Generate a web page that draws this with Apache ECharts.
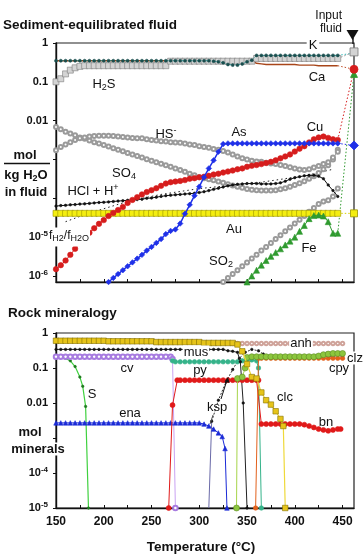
<!DOCTYPE html>
<html><head><meta charset="utf-8">
<script src="https://cdn.jsdelivr.net/npm/echarts@6.0.0/dist/echarts.min.js"></script>
<style>html,body{margin:0;padding:0;background:#fff}#c{width:364px;height:555px}</style>
</head><body><div id="c"></div>
<script>
// ---------- axis ticks / labels ----------
const xTicks = [150,175,200,225,250,275,300,325,350,375,400,425,450];
const xLabels = [150,200,250,300,350,400,450];
const fluidTicks = [1e-6,1e-5,1e-4,1e-3,0.01,0.1,1];
const fluidLabels = [1e-6,1e-5,0.01,0.1,1];
const mineralTicks = [1e-5,1e-4,1e-3,0.01,0.1,1];
const mineralLabels = [1e-5,1e-4,0.01,0.1,1];
const inputT = 462;

// ---------- Sediment-equilibrated fluid (mol/kg H2O) ----------
const temps = [150,155,160,165,170,175,180,185,190,195,
  200,205,210,215,220,225,230,235,240,245,
  250,255,260,265,270,275,280,285,290,295,
  300,305,310,315,320,325,330,335,340,345,
  350,355,360,365,370,375,380,385,390,395,
  400,405,410,415,420,425,430,435,440,445];
const h2s = [0.10,0.12,0.16,0.20,0.23,0.25,0.26,0.26,0.26,0.26,
  0.26,0.26,0.26,0.26,0.26,0.26,0.26,0.26,0.26,0.26,
  0.26,0.26,0.26,0.26,0.34,0.34,0.34,0.34,0.34,0.34,
  0.34,0.34,0.34,0.34,0.34,0.34,0.34,0.34,0.34,0.34,
  0.34,0.34,0.40,0.40,0.40,0.40,0.40,0.40,0.40,0.40,
  0.40,0.40,0.40,0.40,0.40,0.40,0.40,0.40,0.40,0.40];
const kFluid = [0.35,0.35,0.35,0.35,0.35,0.35,0.35,0.35,0.35,0.35,
  0.35,0.35,0.35,0.35,0.35,0.35,0.35,0.35,0.35,0.35,
  0.35,0.35,0.35,0.35,0.35,0.35,0.35,0.35,0.35,0.35,
  0.35,0.35,0.35,0.34,0.33,0.31,0.28,0.27,0.27,0.29,
  0.33,0.36,0.48,0.48,0.48,0.48,0.48,0.48,0.48,0.48,
  0.48,0.48,0.48,0.48,0.48,0.48,0.48,0.48,0.48,0.48];
const caFluid = [0.35,0.35,0.35,0.35,0.35,0.35,0.35,0.35,0.35,0.35,
  0.35,0.35,0.35,0.35,0.35,0.35,0.35,0.35,0.35,0.35,
  0.35,0.35,0.35,0.35,0.35,0.35,0.35,0.35,0.35,0.35,
  0.35,0.35,0.35,0.35,0.35,0.35,0.35,0.35,0.35,0.35,
  0.35,0.35,0.30,0.29,0.28,0.28,0.28,0.28,0.28,0.28,
  0.28,0.27,0.27,0.27,0.27,0.26,0.26,0.26,0.26,0.26];
const cuFluid = [1.5e-6,1.9e-6,2.5e-6,3.5e-6,5.0e-6,7.1e-6,8.9e-6,1.3e-5,1.7e-5,2.2e-5,
  2.75e-5,3.5e-5,4.2e-5,5.0e-5,6.0e-5,7.6e-5,9.1e-5,1.07e-4,1.26e-4,1.45e-4,
  1.62e-4,1.82e-4,2.1e-4,2.4e-4,2.6e-4,2.7e-4,2.8e-4,2.95e-4,3.2e-4,3.3e-4,
  3.5e-4,3.6e-4,3.8e-4,4.1e-4,4.3e-4,4.6e-4,4.9e-4,5.2e-4,5.6e-4,5.9e-4,
  6.5e-4,6.9e-4,7.2e-4,7.6e-4,8.1e-4,8.7e-4,9.5e-4,1.07e-3,1.2e-3,1.35e-3,
  1.6e-3,1.9e-3,2.2e-3,2.75e-3,3.3e-3,3.7e-3,3.9e-3,3.6e-3,3.3e-3,3.2e-3];
const auFluid = [4.1e-5,4.1e-5,4.1e-5,4.1e-5,4.1e-5,4.1e-5,4.1e-5,4.1e-5,4.1e-5,4.1e-5,
  4.1e-5,4.1e-5,4.1e-5,4.1e-5,4.1e-5,4.1e-5,4.1e-5,4.1e-5,4.1e-5,4.1e-5,
  4.1e-5,4.1e-5,4.1e-5,4.1e-5,4.1e-5,4.1e-5,4.1e-5,4.1e-5,4.1e-5,4.1e-5,
  4.1e-5,4.1e-5,4.1e-5,4.1e-5,4.1e-5,4.1e-5,4.1e-5,4.1e-5,4.1e-5,4.1e-5,
  4.1e-5,4.1e-5,4.1e-5,4.1e-5,4.1e-5,4.1e-5,4.1e-5,4.1e-5,4.1e-5,4.1e-5,
  4.1e-5,4.1e-5,4.1e-5,4.1e-5,4.1e-5,4.1e-5,4.1e-5,4.1e-5,4.1e-5,4.1e-5];
const hclFluid = [6.3e-5,6.5e-5,6.6e-5,6.8e-5,6.9e-5,7.1e-5,7.2e-5,7.4e-5,7.6e-5,7.8e-5,
  7.9e-5,8.1e-5,8.3e-5,8.5e-5,8.7e-5,8.9e-5,9.1e-5,9.3e-5,9.5e-5,1.0e-4,
  1.02e-4,1.07e-4,1.12e-4,1.17e-4,1.2e-4,1.23e-4,1.26e-4,1.29e-4,1.32e-4,1.35e-4,
  1.41e-4,1.48e-4,1.58e-4,1.7e-4,1.82e-4,1.95e-4,2.1e-4,2.2e-4,2.3e-4,2.35e-4,
  2.4e-4,2.4e-4,2.4e-4,2.35e-4,2.35e-4,2.35e-4,2.4e-4,2.5e-4,2.75e-4,3.1e-4,
  3.4e-4,3.6e-4,3.8e-4,3.9e-4,3.9e-4,3.7e-4,3.2e-4,2.2e-4,1.58e-4,1.12e-4];
const hsFluid = [1.74e-3,2.1e-3,2.45e-3,2.8e-3,3.2e-3,3.5e-3,3.7e-3,3.9e-3,4.0e-3,4.1e-3,
  4.1e-3,4.1e-3,4.0e-3,3.9e-3,3.8e-3,3.7e-3,3.6e-3,3.5e-3,3.5e-3,3.3e-3,
  3.2e-3,3.1e-3,2.95e-3,2.9e-3,2.8e-3,2.75e-3,2.7e-3,2.6e-3,2.45e-3,2.35e-3,
  2.2e-3,2.1e-3,2.0e-3,1.86e-3,1.78e-3,1.66e-3,1.51e-3,1.35e-3,1.2e-3,1.07e-3,
  1.0e-3,9.3e-4,8.9e-4,8.7e-4,8.3e-4,7.9e-4,7.6e-4,7.2e-4,6.8e-4,6.3e-4,
  5.9e-4,5.5e-4,5.4e-4,5.6e-4,6.2e-4,6.8e-4,7.6e-4,8.5e-4,1.12e-3,1.58e-3];
const so4Fluid = [6.9e-3,6.0e-3,5.2e-3,4.7e-3,4.2e-3,3.7e-3,3.4e-3,3.1e-3,2.8e-3,2.6e-3,
  2.35e-3,2.15e-3,1.95e-3,1.78e-3,1.62e-3,1.48e-3,1.35e-3,1.23e-3,1.12e-3,1.02e-3,
  9.3e-4,8.5e-4,7.8e-4,7.1e-4,6.5e-4,5.9e-4,5.4e-4,4.8e-4,4.3e-4,3.9e-4,
  3.5e-4,3.3e-4,3.1e-4,2.9e-4,2.7e-4,2.5e-4,2.3e-4,2.15e-4,2.0e-4,1.86e-4,
  1.74e-4,1.66e-4,1.62e-4,1.58e-4,1.58e-4,1.58e-4,1.62e-4,1.7e-4,1.82e-4,2.0e-4,
  2.2e-4,2.45e-4,2.75e-4,3.2e-4,3.7e-4,4.5e-4,5.6e-4,7.1e-4,1.0e-3,1.78e-3];
const asT = [205,210,215,220,225,230,235,240,245,250,255,260,265,270,275,280,285,290,295,300,
  305,310,315,320,325,330,335,340,345,350,355,360,365,370,375,380,385,390,395,400,
  405,410,415,420,425,430,435,440,445];
const asFluid = [7e-7,8.9e-7,1.12e-6,1.41e-6,1.78e-6,2.24e-6,2.8e-6,3.5e-6,4.5e-6,5.6e-6,
  7.1e-6,8.9e-6,1.2e-5,1.45e-5,1.58e-5,2.24e-5,4.0e-5,6.8e-5,1.17e-4,2.0e-4,
  3.5e-4,5.9e-4,9.5e-4,1.58e-3,2.5e-3,2.6e-3,2.6e-3,2.6e-3,2.6e-3,2.6e-3,
  2.6e-3,2.6e-3,2.6e-3,2.6e-3,2.6e-3,2.6e-3,2.6e-3,2.6e-3,2.6e-3,2.6e-3,
  2.6e-3,2.6e-3,2.6e-3,2.6e-3,2.6e-3,2.6e-3,2.6e-3,2.6e-3,2.6e-3];
const fh2T = [160,180,200,220,240,260,280,300,320,340,360,380,400,420,440];
const fh2Ratio = [2.5e-5,3.8e-5,5.4e-5,7.6e-5,1.0e-4,1.26e-4,1.5e-4,1.78e-4,2.0e-4,2.2e-4,2.5e-4,2.95e-4,3.5e-4,4.3e-4,5.6e-4];
const so2T = [325,330,335,340,345,350,355,360,365,370,375,380,385,390,395,400,405,410,415,420,425,430,435,440,445];
const so2Fluid = [7e-7,8.9e-7,1.12e-6,1.41e-6,1.78e-6,2.24e-6,2.8e-6,3.5e-6,4.5e-6,5.6e-6,
  7.1e-6,8.9e-6,1.12e-5,1.41e-5,1.78e-5,2.24e-5,2.8e-5,3.5e-5,4.5e-5,5.6e-5,
  7.1e-5,8.3e-5,8.9e-5,1.12e-4,1.78e-4];
const feT = [350,355,360,365,370,375,380,385,390,395,400,405,410,415,420,425,430,435,440,445];
const feFluid = [7e-7,1.0e-6,1.41e-6,1.9e-6,2.5e-6,3.2e-6,4.0e-6,5.0e-6,6.3e-6,7.9e-6,
  1.0e-5,1.41e-5,2.0e-5,3.0e-5,3.6e-5,3.7e-5,3.5e-5,2.5e-5,1.26e-5,1.26e-5];
// input fluid composition
const h2sIn = 0.59, kIn = 0.55, caIn = 0.21, cuIn = 0.21, feIn = 0.16, asIn = 2.3e-3, auIn = 4.1e-5;

// ---------- Rock mineralogy (mol minerals) ----------
const clcT = [150,155,160,165,170,175,180,185,190,195,200,205,210,215,220,225,230,235,240,245,
  250,255,260,265,270,275,280,285,290,295,300,305,310,315,320,325,330,335,340,
  345,350,355,360,365,370,375,380,385,388,390];
const clcV = [0.6,0.6,0.6,0.6,0.6,0.6,0.6,0.6,0.6,0.6,0.6,0.58,0.58,0.58,0.58,0.58,0.58,0.58,0.58,0.58,
  0.58,0.55,0.55,0.55,0.55,0.55,0.55,0.55,0.55,0.55,0.55,0.52,0.52,0.52,0.52,0.52,0.52,0.52,0.47,
  0.3,0.13,0.055,0.05,0.02,0.012,0.009,0.0058,0.0035,0.0022,1e-5];
const anhT = [335,340,345,350,355,360,365,370,375,380,385,390,395,400,405,410,415,420,425,430,435,440,445,450];
const anhV = [0.5,0.5,0.5,0.5,0.5,0.5,0.5,0.5,0.5,0.5,0.5,0.5,0.5,0.5,0.5,0.5,0.5,0.5,0.5,0.5,0.5,0.5,0.5,0.5];
const musT = [150,155,160,165,170,175,180,185,190,195,200,205,210,215,220,225,230,235,240,245,
  250,255,260,265,270,275,280,285,290,295,300,305,310,315,320,325,330,335,340,343,346,350];
const musV = [0.34,0.34,0.34,0.34,0.34,0.34,0.34,0.34,0.34,0.34,0.34,0.34,0.34,0.34,0.34,0.34,0.34,0.34,0.34,0.34,
  0.34,0.34,0.34,0.34,0.34,0.34,0.34,0.34,0.34,0.34,0.34,0.34,0.34,0.34,0.34,0.34,0.31,0.30,0.28,0.15,0.01,1e-5];
const kspT = [310,313,320,328,335,342,348,355,362,367,375,390,410,430,450];
const kspV = [1e-5,0.003,0.012,0.04,0.09,0.19,0.28,0.34,0.31,0.25,0.21,0.21,0.21,0.21,0.21];
const clzT = [339,340,345,348,350,355,360,365,370,375,380,385,390,395,400,405,410,415,420,425,430,435,440,445,450];
const clzV = [1e-5,0.05,0.055,0.1,0.2,0.21,0.21,0.21,0.21,0.21,0.21,0.21,0.21,0.21,0.21,0.21,0.21,0.21,0.21,0.22,0.24,0.25,0.26,0.26,0.26];
const cpyT = [359,362,365,370,375,380,385,390,395,400,405,410,415,420,425,430,435,440,445,450];
const cpyV = [1e-5,0.19,0.19,0.19,0.19,0.19,0.19,0.19,0.19,0.19,0.19,0.19,0.19,0.19,0.19,0.19,0.19,0.19,0.19,0.19];
const cvT = [150,155,160,165,170,175,180,185,190,195,200,205,210,215,220,225,230,235,240,245,250,255,260,265,270,272,275];
const cvV = [0.21,0.21,0.21,0.21,0.21,0.21,0.21,0.21,0.21,0.21,0.21,0.21,0.21,0.21,0.21,0.21,0.21,0.21,0.21,0.21,0.21,0.21,0.21,0.21,0.21,0.18,1e-5];
const pyT = [272,275,280,285,290,295,300,305,310,315,320,325,330,335,340,345,350,355,360,362,365];
const pyV = [0.16,0.15,0.15,0.15,0.15,0.15,0.15,0.15,0.15,0.15,0.15,0.15,0.15,0.15,0.15,0.16,0.17,0.17,0.16,0.1,1e-5];
const sT = [150,155,160,165,170,175,178,181,184];
const sV = [0.2,0.2,0.19,0.16,0.11,0.055,0.03,0.008,1e-5];
const enaT = [150,155,160,165,170,175,180,185,190,195,200,205,210,215,220,225,230,235,240,245,
  250,255,260,265,270,275,280,285,290,295,300,305,310,315,320,324,327,329];
const enaV = [0.0027,0.0027,0.0027,0.0027,0.0027,0.0027,0.0027,0.0027,0.0027,0.0027,0.0027,0.0027,0.0027,0.0027,0.0027,0.0027,0.0027,0.0027,0.0027,0.0027,
  0.0027,0.0027,0.0027,0.0027,0.0027,0.0027,0.0027,0.0027,0.0027,0.0027,0.0027,0.0025,0.0022,0.0018,0.0014,0.0011,0.0005,1e-5];
const bnT = [268,272,277,280,285,290,295,300,305,310,315,320,325,330,335,340,345,350,355,360,362,365,
  370,375,380,385,390,395,400,405,410,415,420,425,430,435,440,445,448];
const bnV = [1e-5,0.0087,0.045,0.045,0.045,0.045,0.045,0.045,0.045,0.045,0.045,0.045,0.045,0.045,0.045,0.045,0.045,0.045,0.045,0.045,0.045,0.0025,
  0.0025,0.0025,0.0025,0.0025,0.0025,0.0025,0.0025,0.0025,0.0024,0.0022,0.002,0.0018,0.0017,0.0016,0.0017,0.0018,0.0018];

// ---------- build ----------
const F = 'Liberation Sans, Arial, sans-serif';
const zip = (xs, ys) => xs.map((x, i) => [x, ys[i]]);
const last = (xs, ys) => [xs[xs.length - 1], ys[ys.length - 1]];

function line(gi, name, data, o) {
  return {
    type: 'line', name, xAxisIndex: gi, yAxisIndex: gi, data,
    symbol: o.symbol || 'none', symbolSize: o.size || 4, showSymbol: !!o.symbol,
    lineStyle: { color: o.line || o.color, width: o.width || 1, type: o.dash || 'solid' },
    itemStyle: { color: o.color, borderColor: o.border || o.color, borderWidth: o.bw || 0.6 },
    z: o.z || 2, silent: true, animation: false, clip: true
  };
}
function inputLink(name, from, val, o) {
  return {
    type: 'line', name: name + ' input', xAxisIndex: 0, yAxisIndex: 0,
    data: [{ value: from, symbol: 'none' }, { value: [inputT, val], symbol: o.symbol || 'none', symbolSize: o.size || 7 }],
    lineStyle: { color: o.line || o.color, width: 1, type: [1.5, 2] },
    itemStyle: { color: o.color, borderColor: o.border || o.color, borderWidth: 0.8 },
    z: o.z || 3, silent: true, animation: false, clip: false
  };
}

const kspData = zip(kspT, kspV);
const series = [
  line(0, 'SO4', zip(temps, so4Fluid), { symbol: 'emptyCircle', size: 4, color: '#9a9a9a', line: '#a8a8a8' }),
  line(0, 'HS-', zip(temps, hsFluid), { symbol: 'emptyCircle', size: 4, color: '#9a9a9a', line: '#a8a8a8' }),
  line(0, 'SO2', zip(so2T, so2Fluid), { symbol: 'emptyCircle', size: 4, color: '#9a9a9a', line: '#a8a8a8' }),
  line(0, 'fH2/fH2O', zip(fh2T, fh2Ratio), { color: '#222', dash: [1.5, 3] }),
  line(0, 'HCl + H+', zip(temps, hclFluid), { symbol: 'circle', size: 2.5, color: '#111', z: 3 }),
  line(0, 'Au', zip(temps, auFluid), { symbol: 'rect', size: 6, color: '#f4ee10', border: '#9a9400', line: '#e6dc00', z: 3 }),
  line(0, 'Fe', zip(feT, feFluid), { symbol: 'triangle', size: 6, color: '#2f9a2f', line: '#2f9a2f', z: 4 }),
  line(0, 'Cu', zip(temps, cuFluid), { symbol: 'circle', size: 5.5, color: '#d61d1d', line: '#d61d1d', z: 4 }),
  line(0, 'As', zip(asT, asFluid), { symbol: 'diamond', size: 5.5, color: '#1f30e8', line: '#1f30e8', width: 1.5, z: 5 }),
  line(0, 'H2S', zip(temps, h2s), { symbol: 'rect', size: 6, color: '#d4d4d4', border: '#7a7a7a', line: '#999', z: 5 }),
  line(0, 'Ca', zip(temps, caFluid), { color: '#a8461a', width: 1.4, z: 4 }),
  line(0, 'K', zip(temps, kFluid), { symbol: 'circle', size: 3, color: '#1a4e4e', line: '#2aa5a5', dash: [1.5, 1.5], z: 6 }),
  inputLink('Au', last(temps, auFluid), auIn, { symbol: 'rect', size: 7, color: '#f4ee10', border: '#9a9400', line: '#d8d000' }),
  inputLink('As', last(asT, asFluid), asIn, { symbol: 'diamond', size: 9, color: '#1f30e8' }),
  inputLink('Fe', last(feT, feFluid), feIn, { symbol: 'triangle', size: 7, color: '#2f9a2f' }),
  inputLink('Cu', last(temps, cuFluid), cuIn, { symbol: 'circle', size: 8, color: '#d61d1d' }),
  inputLink('Ca', last(temps, caFluid), caIn, { color: '#c0502a' }),
  inputLink('K', last(temps, kFluid), kIn, { color: '#30b8b8' }),
  inputLink('H2S', last(temps, h2s), h2sIn, { symbol: 'rect', size: 8, color: '#d4d4d4', border: '#7a7a7a', line: '#999' }),

  line(1, 'S', zip(sT, sV), { symbol: 'circle', size: 2.5, color: '#1e7a1e', line: '#3fd13f', width: 1.2 }),
  line(1, 'ena', zip(enaT, enaV), { symbol: 'triangle', size: 4.5, color: '#1a2ad6', line: '#1a2ad6' }),
  line(1, 'bn', zip(bnT, bnV), { symbol: 'circle', size: 5, color: '#e01a1a', line: '#e01a1a', z: 3 }),
  line(1, 'cv', zip(cvT, cvV), { symbol: 'emptyCircle', size: 4.5, color: '#a77be0', line: '#c9a2f2' }),
  line(1, 'py', zip(pyT, pyV), { symbol: 'circle', size: 4.5, color: '#35b38a', line: '#35b38a' }),
  line(1, 'ksp (onset)', kspData.slice(0, 2), { color: '#6a6aa8' }),
  line(1, 'ksp', kspData.slice(1), { symbol: 'circle', size: 2.5, color: '#111', line: '#333', dash: [2, 1.5] }),
  line(1, 'mus', zip(musT, musV), { symbol: 'circle', size: 2.5, color: '#111', line: '#222', z: 3 }),
  line(1, 'anh', zip(anhT, anhV), { symbol: 'emptyCircle', size: 3.5, color: '#cfa39a', line: '#cfa39a' }),
  line(1, 'cpy', zip(cpyT, cpyV), { symbol: 'circle', size: 4.5, color: '#e2611c', line: '#e2611c', z: 3 }),
  line(1, 'clz', zip(clzT, clzV), { symbol: 'circle', size: 6, color: '#8cc63e', border: '#5d8a22', line: '#a6d44a', z: 4 }),
  line(1, 'clc', zip(clcT, clcV), { symbol: 'rect', size: 5.5, color: '#e6c41a', border: '#857000', line: '#efd93a', width: 1.2, z: 5 })
];

const expLabel = v => {
  const e = Math.round(Math.log10(v));
  if (e === 0) return '1';
  if (e === -1) return '0.1';
  if (e === -2) return '0.01';
  return '{b|10}{p|' + e + '}';
};
const axisRich = {
  b: { fontSize: 11, fontWeight: 'bold', fontFamily: F, color: '#111' },
  p: { fontSize: 8, fontWeight: 'bold', fontFamily: F, color: '#111', padding: [0, 0, 6, 0] }
};
function xAxis(gi, labels) {
  return {
    type: 'value', gridIndex: gi, min: 150, max: 462,
    axisLine: { show: true, onZero: false, lineStyle: { color: '#111', width: 1.4 } },
    axisTick: { show: true, inside: true, length: 3, customValues: xTicks, lineStyle: { color: '#111', width: 1 } },
    axisLabel: { show: labels, customValues: xLabels, margin: 8, fontSize: 12, fontWeight: 'bold', fontFamily: F, color: '#111' },
    splitLine: { show: false }
  };
}
function yAxis(gi, min, ticks, labels) {
  return {
    type: 'log', logBase: 10, gridIndex: gi, min, max: 1,
    axisLine: { show: true, lineStyle: { color: '#111', width: 1.4 } },
    axisTick: { show: true, inside: false, length: 3, customValues: ticks, lineStyle: { color: '#111' } },
    axisLabel: { customValues: labels, formatter: expLabel, margin: 8, fontSize: 11, fontWeight: 'bold', fontFamily: F, color: '#111', rich: axisRich },
    splitLine: { show: false }, minorTick: { show: false }
  };
}

// graphic texts
const RICH = {
  s: { fontSize: 9, fontFamily: F, fill: '#111', padding: [7, 0, 0, 0] },
  u: { fontSize: 9, fontFamily: F, fill: '#111', padding: [0, 0, 7, 0] },
  bs: { fontSize: 9, fontWeight: 'bold', fontFamily: F, fill: '#111', padding: [7, 0, 0, 0] },
  bu: { fontSize: 8, fontWeight: 'bold', fontFamily: F, fill: '#111', padding: [0, 0, 7, 0] }
};
function txt(text, x, y, o) {
  o = o || {};
  const st = {
    text, x, y, fill: '#111', align: o.align || 'center', verticalAlign: 'middle',
    font: (o.bold ? 'bold ' : '') + (o.size || 13) + 'px ' + F, rich: RICH
  };
  if (o.bg) { st.backgroundColor = '#fff'; st.padding = o.pad || [0, 1]; }
  return { type: 'text', x: 0, y: 0, style: st, z: 100, silent: true };
}
const graphic = [
  txt('Sediment-equilibrated fluid', 3, 25, { bold: true, size: 13.5, align: 'left' }),
  txt('Input', 342, 16, { align: 'right', size: 12 }),
  txt('fluid', 342, 29, { align: 'right', size: 12 }),
  { type: 'polygon', shape: { points: [[346.5, 30], [358.5, 30], [352.5, 40]] }, style: { fill: '#111' }, z: 100 },
  { type: 'line', shape: { x1: 353, y1: 38, x2: 353, y2: 44 }, style: { stroke: '#111', lineWidth: 1.4 }, z: 100 },
  txt('mol', 25, 155, { bold: true }),
  { type: 'line', shape: { x1: 4, y1: 163.5, x2: 50, y2: 163.5 }, style: { stroke: '#111', lineWidth: 1.5 }, z: 100 },
  txt('kg H{bs|2}O', 26, 175, { bold: true }),
  txt('in fluid', 26, 192, { bold: true }),
  txt('H{s|2}S', 104, 84),
  txt('K', 313, 45, { bg: true, pad: [0, 2] }),
  txt('Ca', 317, 77),
  txt('HS{u|-}', 166, 134),
  txt('As', 239, 132),
  txt('Cu', 315, 127),
  txt('SO{s|4}', 124, 173),
  txt('HCl + H{u|+}', 93, 191),
  txt('f{s|H2}/f{s|H2O}', 49, 237, { size: 12, bg: true, pad: [0, 1, 3, 0], align: 'left' }),
  txt('Au', 234, 229),
  txt('SO{s|2}', 221, 261),
  txt('Fe', 309, 248),
  txt('Rock mineralogy', 8, 313, { bold: true, size: 13.5, align: 'left' }),
  txt('mol', 30, 432, { bold: true }),
  txt('minerals', 38, 449, { bold: true, bg: true, pad: [0, 0] }),
  txt('Temperature (°C)', 201, 547, { bold: true, size: 13.5 }),
  txt('anh', 301, 343, { bg: true }),
  txt('mus', 196, 352, { bg: true }),
  txt('clz', 355, 358, { bg: true }),
  txt('cpy', 339, 368),
  txt('cv', 127, 368),
  txt('py', 200, 370),
  txt('S', 92, 394),
  txt('ena', 130, 413),
  txt('ksp', 217, 407),
  { type: 'line', shape: { x1: 221, y1: 399, x2: 227, y2: 380 }, style: { stroke: '#111', lineWidth: 1 }, z: 100 },
  { type: 'polygon', shape: { points: [[224.5, 381.5], [229.5, 383], [228, 377]] }, style: { fill: '#111' }, z: 100 },
  { type: 'line', shape: { x1: 213, y1: 415, x2: 210, y2: 424 }, style: { stroke: '#555', lineWidth: 1 }, z: 100 },
  txt('clc', 285, 397),
  txt('bn', 326, 422)
];

const chart = echarts.init(document.getElementById('c'), null, { renderer: 'canvas' });
chart.setOption({
  animation: false,
  backgroundColor: '#fff',
  grid: [
    { left: 56, right: 10, top: 43, height: 239, show: true, borderColor: '#222', borderWidth: 1.2, backgroundColor: 'transparent' },
    { left: 56, right: 10, top: 333, height: 175, show: true, borderColor: '#222', borderWidth: 1.2, backgroundColor: 'transparent' }
  ],
  xAxis: [xAxis(0, false), xAxis(1, true)],
  yAxis: [yAxis(0, 7e-7, fluidTicks, fluidLabels), yAxis(1, 1e-5, mineralTicks, mineralLabels)],
  series,
  graphic
});
</script></body></html>
